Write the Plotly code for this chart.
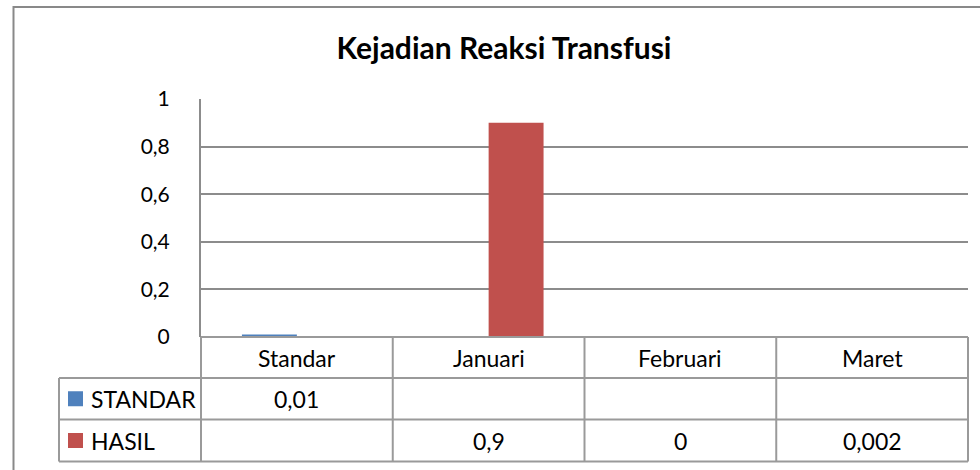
import plotly.graph_objects as go

categories = ["Standar", "Januari", "Februari", "Maret"]
series_names = ["STANDAR", "HASIL"]
standar_values = [0.01, None, None, None]
hasil_values = [None, 0.9, 0, 0.002]
y_tick_vals = [0, 0.2, 0.4, 0.6, 0.8, 1]
y_tick_text = ["0", "0,2", "0,4", "0,6", "0,8", "1"]
colors = ["#4F81BD", "#C0504D"]
title_text = "Kejadian Reaksi Transfusi"

W, H = 980, 470
L, R, T, B = 201, 980 - 968, 99, 470 - 337
PW = W - L - R
PH = H - T - B
FONT = "Lato"
GRID = "#8c8c8c"
TLINE = "#9a9a9a"
TXT = 23


def px(xp):
    return (xp - L) / PW


def py(yp):
    return (H - B - yp) / PH


def fmt(v):
    if v is None:
        return ""
    return ("%g" % v).replace(".", ",")


fig = go.Figure()
all_series = [standar_values, hasil_values]
for name, vals, col in zip(series_names, all_series, colors):
    fig.add_trace(go.Bar(x=categories, y=vals, name=name, marker_color=col, marker_line_width=0))

shapes = []
annotations = []
n = len(categories)
row_y = [py(337), py(378), py(419.5), py(461.5)]
for i, yv in enumerate(row_y):
    x0 = 0 if i < 1 else px(59)
    shapes.append(dict(type="line", xref="paper", yref="paper", x0=x0, x1=1, y0=yv, y1=yv,
                       line=dict(color=TLINE, width=2)))
for k in range(n + 1):
    xv = k / n
    shapes.append(dict(type="line", xref="paper", yref="paper", x0=xv, x1=xv, y0=row_y[0], y1=row_y[-1],
                       line=dict(color=TLINE, width=2)))
shapes.append(dict(type="line", xref="paper", yref="paper", x0=px(59), x1=px(59), y0=row_y[1], y1=row_y[-1],
                   line=dict(color=TLINE, width=2)))
# outer chart border
shapes.append(dict(type="rect", xref="paper", yref="paper", x0=px(13.5), x1=px(1200), y0=py(700), y1=py(7),
                   line=dict(color="#898989", width=2), fillcolor="rgba(0,0,0,0)", layer="below"))

for i, c in enumerate(categories):
    annotations.append(dict(text=c, x=(i + 0.5) / n, y=py(358), xref="paper", yref="paper",
                            xanchor="center", yanchor="middle",
                            showarrow=False, font=dict(family=FONT, size=TXT, color="#000")))
for r, (name, vals, col) in enumerate(zip(series_names, all_series, colors)):
    yc = (row_y[r + 1] + row_y[r + 2]) / 2
    shapes.append(dict(type="rect", xref="paper", yref="paper", x0=px(68), x1=px(83), y0=yc - 7.5 / PH,
                       y1=yc + 7.5 / PH, fillcolor=col, line=dict(width=0)))
    annotations.append(dict(text=name, x=px(89), y=yc, xref="paper", yref="paper", xanchor="left",
                            yanchor="middle", showarrow=False, font=dict(family=FONT, size=TXT, color="#000")))
    for i, v in enumerate(vals):
        if v is None:
            continue
        annotations.append(dict(text=fmt(v), x=(i + 0.5) / n, y=yc, xref="paper", yref="paper",
                                xanchor="center", yanchor="middle",
                                showarrow=False, font=dict(family=FONT, size=TXT, color="#000")))

fig.update_layout(
    width=W, height=H,
    margin=dict(l=L, r=R, t=T, b=B, pad=0),
    paper_bgcolor="white", plot_bgcolor="white",
    showlegend=False,
    barmode="group", bargap=0.427, bargroupgap=0,
    title=dict(text="<b>" + title_text + "</b>", x=504 / W, xref="container", xanchor="center",
               y=1 - 48 / H, yref="container", yanchor="middle",
               font=dict(family=FONT, size=30, color="#000")),
    font=dict(family=FONT, size=21, color="#000"),
    xaxis=dict(range=[-0.5, n - 0.5], showticklabels=False, showgrid=False, zeroline=False,
               showline=False, ticks=""),
    yaxis=dict(range=[0, 1], tickvals=y_tick_vals, ticktext=y_tick_text, showgrid=True, gridcolor=GRID,
               gridwidth=2, zeroline=False, showline=True, linecolor=GRID, linewidth=2, ticks="",
               ticklabelstandoff=25, tickfont=dict(family=FONT, size=21, color="#000")),
    shapes=shapes, annotations=annotations,
)

fig.write_html("out.html", config={"displayModeBar": False},
               post_script="document.body.style.margin='0px';document.body.style.overflow='hidden';")
